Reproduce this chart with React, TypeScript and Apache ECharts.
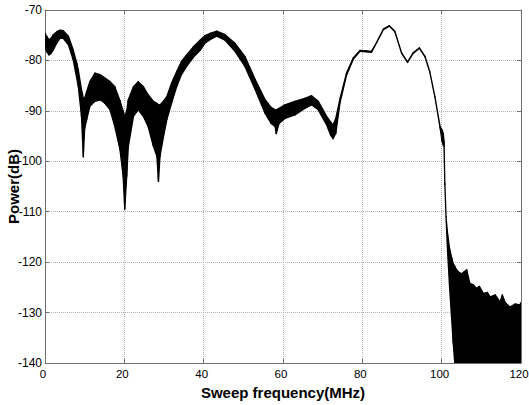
import React, { useEffect, useRef } from "react";
import * as echarts from "echarts";

// Sweep frequency (MHz)
const freq = [
  0, 0.5, 1.0, 1.5, 2.1, 3.0, 3.8, 4.6, 5.9, 7.1, 8.0, 8.4, 9.2, 9.66, 10.0, 10.5, 11.3, 12.6, 13.9, 15.1,
  16.4, 17.6, 18.9, 19.7, 20.1, 20.6, 21.0, 22.3, 23.5, 24.8, 26.0, 27.3, 28.2, 28.6, 29.0, 29.4, 30.7, 31.9, 33.2, 34.4,
  35.7, 37.4, 39.1, 40.3, 41.8, 43.3, 45.4, 47.9, 50.4, 53.0, 55.5, 57.0, 58.0, 58.3, 59.0, 60.5, 63.0, 65.5, 67.2, 68.9,
  71.0, 72.0, 72.6, 73.3, 74.4, 76.0, 77.7, 79.4, 81.1, 82.3, 83.6, 85.3, 86.8, 88.2, 89.9, 91.4, 92.8, 94.4, 95.8, 97.0,
  98.3, 99.6, 100.1, 100.4, 100.6, 100.8, 101.1, 101.5, 102.0, 102.5, 102.9, 103.3, 103.5, 104.2, 105.0, 105.5, 106.3, 107.1, 108.0, 108.8,
  109.5, 110.5, 111.5, 112.2, 113.5, 114.7, 115.3, 116.0, 117.2, 118.5, 119.7, 120,
];

// Upper envelope of the noisy trace (dB)
const upper = [
  -74.6, -75.3, -75.9, -75.6, -74.9, -74.3, -74.0, -74.1, -75.2, -77.9, -80.5, -81.9, -85.8, -87.5, -87.5, -86.2, -84.2, -82.5, -82.8, -83.5,
  -84.2, -85.2, -88.0, -90.0, -91.1, -90.0, -87.8, -85.2, -84.2, -85.2, -86.8, -88.1, -88.5, -88.8, -88.8, -88.5, -87.2, -84.5, -82.2, -80.2,
  -78.9, -77.3, -76.0, -75.1, -74.6, -74.2, -74.9, -76.6, -79.2, -83.8, -87.8, -89.3, -89.8, -89.8, -89.5, -88.8, -88.1, -87.5, -87.0, -88.1,
  -91.1, -92.2, -92.8, -91.5, -87.5, -82.5, -79.5, -78.0, -78.1, -78.2, -76.4, -73.8, -73.1, -74.2, -78.5, -80.3, -78.5, -77.5, -79.2, -82.2,
  -87.2, -93.1, -93.8, -94.5, -96.0, -104.4, -111.0, -114.5, -117.3, -119.0, -120.3, -120.8, -121.2, -121.9, -122.3, -122.0, -121.5, -124.2, -124.5, -125.2,
  -124.8, -126.2, -126.0, -126.9, -126.5, -127.9, -126.5, -128.0, -128.9, -128.3, -128.5, -128.0,
];

// Lower envelope of the noisy trace (dB)
const lower = [
  -77.5, -78.3, -78.9, -78.6, -77.9, -76.5, -75.6, -75.6, -76.9, -79.9, -83.5, -85.2, -91.1, -99.1, -93.5, -91.8, -89.1, -88.1, -87.8, -88.5,
  -89.8, -93.1, -97.7, -103.0, -109.5, -103.0, -97.1, -91.1, -89.8, -91.1, -93.1, -97.0, -99.0, -104.0, -99.0, -97.1, -91.8, -88.5, -85.2, -82.8,
  -81.2, -79.4, -78.0, -76.6, -75.8, -75.2, -76.0, -78.2, -81.2, -85.8, -90.5, -92.5, -93.1, -94.5, -92.5, -91.5, -90.8, -89.5, -88.8, -89.8,
  -92.8, -94.8, -95.5, -94.5, -88.3, -83.0, -79.8, -78.2, -78.3, -78.4, -76.5, -73.9, -73.2, -74.3, -78.6, -80.4, -78.6, -77.6, -79.3, -82.3,
  -87.3, -93.4, -96.0, -96.8, -97.0, -104.6, -111.0, -118.0, -125.0, -131.0, -136.0, -140, -140, -140, -140, -140, -140, -140, -140, -140,
  -140, -140, -140, -140, -140, -140, -140, -140, -140, -140, -140, -140,
];

const xTicks = { min: 0, max: 120, interval: 20 };
const yTicks = { min: -140, max: -70, interval: 10 };

const tickFont = "'Liberation Sans Narrow', 'Arial Narrow', 'Liberation Sans', Arial, sans-serif";
const titleFont = "'Liberation Sans', Arial, sans-serif";

export default function App() {
  const ref = useRef<HTMLDivElement>(null);
  useEffect(() => {
    if (!ref.current) return;
    const chart = echarts.init(ref.current, null, { renderer: "svg" });
    const axisLineStyle = { color: "#6f6f6f", width: 1 };
    const gridLine = { show: true, lineStyle: { type: "dotted" as const, color: "#b4b4b4", width: 1 } };
    // one segment per consecutive pair of samples: [x0, lo0, hi0, x1, lo1, hi1]
    const segments = freq.slice(0, -1).map((x, i) => [
      x, lower[i], upper[i], freq[i + 1], lower[i + 1], upper[i + 1],
    ]);
    chart.setOption({
      animation: false,
      backgroundColor: "#ffffff",
      grid: { left: 45, top: 10, right: 8, bottom: 42, containLabel: false, outerBoundsMode: "none" },
      xAxis: [
        {
          type: "value",
          ...xTicks,
          position: "bottom",
          axisLine: { show: true, onZero: false, lineStyle: axisLineStyle },
          axisTick: { show: true, inside: true, length: 4, lineStyle: axisLineStyle },
          splitLine: gridLine,
          axisLabel: {
            color: "#000", fontFamily: tickFont, fontSize: 11.5, margin: 5, hideOverlap: false,
            padding: [0, 4, 0, 0],
          },
          name: "Sweep frequency(MHz)",
          nameLocation: "middle",
          nameGap: 22,
          nameMoveOverlap: false,
          nameTextStyle: { color: "#000", fontFamily: titleFont, fontWeight: "bold", fontSize: 15 },
        },
        {
          type: "value",
          ...xTicks,
          position: "top",
          axisLine: { show: true, onZero: false, lineStyle: axisLineStyle },
          axisTick: { show: true, inside: true, length: 4, lineStyle: axisLineStyle },
          splitLine: { show: false },
          axisLabel: { show: false },
        },
      ],
      yAxis: [
        {
          type: "value",
          ...yTicks,
          position: "left",
          axisLine: { show: true, onZero: false, lineStyle: axisLineStyle },
          axisTick: { show: true, inside: true, length: 4, lineStyle: axisLineStyle },
          splitLine: gridLine,
          axisLabel: { color: "#000", fontFamily: tickFont, fontSize: 12, margin: 3 },
          name: "Power(dB)",
          nameLocation: "middle",
          nameGap: 24,
          nameMoveOverlap: false,
          nameTextStyle: { color: "#000", fontFamily: titleFont, fontWeight: "bold", fontSize: 15 },
        },
        {
          type: "value",
          ...yTicks,
          position: "right",
          axisLine: { show: true, onZero: false, lineStyle: axisLineStyle },
          axisTick: { show: true, inside: true, length: 4, lineStyle: axisLineStyle },
          splitLine: { show: false },
          axisLabel: { show: false },
        },
      ],
      series: [
        {
          type: "custom",
          name: "Power",
          data: segments,
          encode: { x: [0, 3], y: [1, 2, 4, 5] },
          clip: true,
          z: 3,
          renderItem: (params: any, api: any) => {
            const p1 = api.coord([api.value(0), api.value(2)]);
            const p2 = api.coord([api.value(3), api.value(5)]);
            const p3 = api.coord([api.value(3), api.value(4)]);
            const p4 = api.coord([api.value(0), api.value(1)]);
            return {
              type: "polygon",
              shape: { points: [p1, p2, p3, p4] },
              style: { fill: "#000", stroke: "#000", lineWidth: 1.3, lineJoin: "round" },
            };
          },
        },
      ],
    });
    return () => chart.dispose();
  }, []);
  return (
    <div
      ref={ref}
      style={{ position: "fixed", left: 0, top: 0, width: 529, height: 405, background: "#fff" }}
    />
  );
}
